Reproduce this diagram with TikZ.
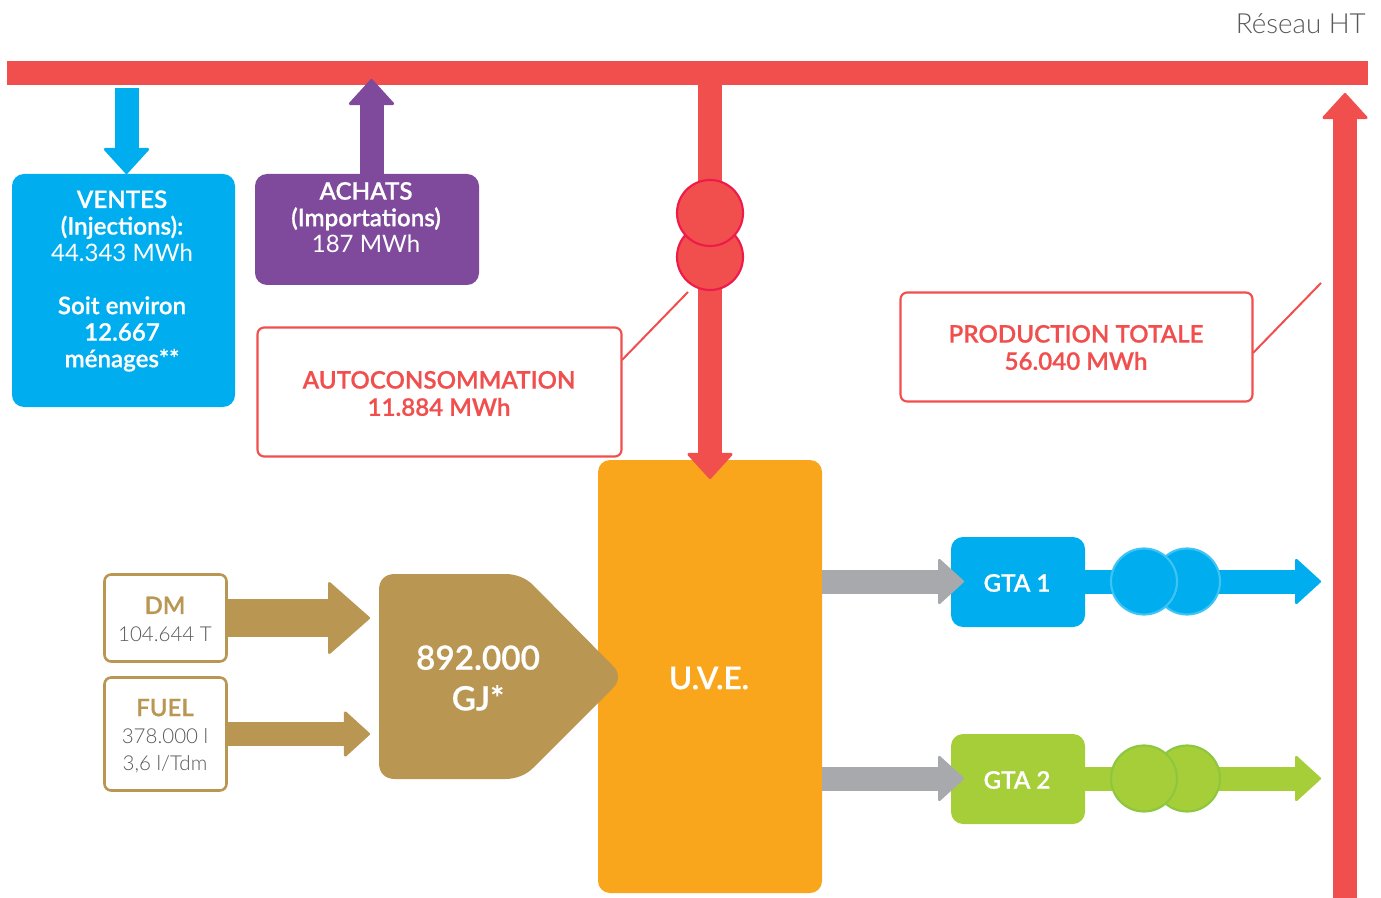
\documentclass[tikz,border=0pt]{standalone}
\usepackage{fontspec}
\usetikzlibrary{arrows.meta}
\setmainfont{Lato}
\newfontfamily\lightf{Lato Light}
\newfontfamily\medf[FakeBold=0.6]{Lato Semibold}
\definecolor{cred}{HTML}{F14E4E}
\definecolor{cring}{HTML}{EE1B4A}
\definecolor{cblue}{HTML}{00AEEF}
\definecolor{cbring}{HTML}{3DC3F4}
\definecolor{cpurple}{HTML}{7F4A9C}
\definecolor{corange}{HTML}{F9A61C}
\definecolor{cgold}{HTML}{B99652}
\definecolor{cgray}{HTML}{A7A9AC}
\definecolor{cgreen}{HTML}{A6CE39}
\definecolor{cgring}{HTML}{8DC63F}
\definecolor{ctext}{HTML}{58595B}
\tikzset{
  px/.style={x=0.75pt,y=-0.75pt},
  boxnode/.style={rounded corners=9pt,inner sep=0,outer sep=0},
  solidbox/.style={boxnode,fill=#1},
  linebox/.style={boxnode,rounded corners=5pt,draw=#1,line width=1.6pt,fill=white},
  ttxt/.style={align=center,inner sep=0,font=\medf\fontsize{18.1}{19.9}\selectfont,text=white},
  rtxt/.style={align=center,inner sep=0,font=\medf\fontsize{18.1}{20.4}\selectfont,text=cred},
  gtxt/.style={align=center,inner sep=0,font=\lightf\fontsize{15.4}{20.4}\selectfont,text=ctext},
  bigarrow/.style={draw=#1,line width=18pt,-{Triangle[round,length=20pt,width=36pt,line width=2pt,fill=#1,color=#1]}},
  fatarrow/.style={draw=#1,line width=28.5pt,-{Triangle[round,length=32pt,width=56pt,line width=2pt,fill=#1,color=#1]}},
  ring/.style={circle,minimum size=49.5pt,inner sep=0,line width=1.6pt,fill=#1},
  leader/.style={draw=cred,line width=1.5pt},
}
\begin{document}
\begin{tikzpicture}[px]
\useasboundingbox (0,0) rectangle (1381,898);
% bus and main nodes
\node[fill=cred,minimum width=1361*0.75pt,minimum height=24*0.75pt,inner sep=0,outer sep=0] (bus) at (687.5,73) {};
\node[anchor=east,inner sep=0,font=\lightf\fontsize{20.8}{22}\selectfont,text=ctext] (ht) at (1366,24) {Réseau HT};
\node[solidbox=cblue,minimum width=223*0.75pt,minimum height=233*0.75pt] (ventes) at (123.5,290.5) {};
\node[solidbox=cpurple,minimum width=224*0.75pt,minimum height=111*0.75pt] (achats) at (367,229.5) {};
\node[solidbox=corange,minimum width=224*0.75pt,minimum height=433*0.75pt] (uve) at (710,676.5) {};
\node[linebox=cred,minimum width=364*0.75pt,minimum height=129*0.75pt] (auto) at (439.5,392) {};
\node[linebox=cred,minimum width=352*0.75pt,minimum height=109*0.75pt] (prod) at (1076.5,347) {};
\node[solidbox=cblue,minimum width=134*0.75pt,minimum height=90*0.75pt] (gta1) at (1018,582) {};
\node[solidbox=cgreen,minimum width=134*0.75pt,minimum height=90*0.75pt] (gta2) at (1018,779) {};
\node[linebox=cgold,line width=1.9pt,minimum width=122*0.75pt,minimum height=87*0.75pt] (dm) at (165.5,618) {};
\node[linebox=cgold,line width=1.9pt,minimum width=122*0.75pt,minimum height=113*0.75pt] (fuel) at (165.5,734) {};
% free ends
\coordinate (vs) at (126.5,88);
\coordinate (ve) at (126.5,174);
\coordinate (as) at (371.5,174);
\coordinate (ae) at (371.5,79);
\coordinate (rs) at (710,61);
\coordinate (re) at (710,479);
\coordinate (ps) at (1345,898);
\coordinate (pe) at (1345,93);
\coordinate (g1s) at (822,581.5);
\coordinate (g1e) at (964,581.5);
\coordinate (g2s) at (822,778.5);
\coordinate (g2e) at (964,778.5);
\coordinate (b1s) at (1085,581.5);
\coordinate (b1e) at (1321,581.5);
\coordinate (b2s) at (1085,778.5);
\coordinate (b2e) at (1321,778.5);
\coordinate (dms) at (227,618);
\coordinate (dme) at (370,618);
\coordinate (fus) at (227,734);
\coordinate (fue) at (370,734);
\coordinate (la1) at (622,360);
\coordinate (la2) at (688,292);
\coordinate (lb1) at (1253,353);
\coordinate (lb2) at (1321,283);
% block arrows
\draw[bigarrow=cblue] (vs) -- (ve);
\draw[bigarrow=cpurple] (as) -- (ae);
\draw[bigarrow=cred] (rs) -- (re);
\draw[bigarrow=cred] (ps) -- (pe);
\draw[bigarrow=cgray] (g1s) -- (g1e);
\draw[bigarrow=cgray] (g2s) -- (g2e);
\draw[bigarrow=cblue] (b1s) -- (b1e);
\draw[bigarrow=cgreen] (b2s) -- (b2e);
\draw[fatarrow=cgold] (dms) -- (dme);
\draw[bigarrow=cgold] (fus) -- (fue);
% fuel pentagon
\fill[cgold,rounded corners=0pt] (379,590)
  .. controls (379,580) and (385,574) .. (395,574)
  -- (505,574)
  .. controls (516,574) and (526,578) .. (533,585)
  -- (612,665)
  .. controls (620,672) and (620,682) .. (612,689)
  -- (533,768)
  .. controls (526,775) and (516,779) .. (505,779)
  -- (395,779)
  .. controls (385,779) and (379,773) .. (379,763) -- cycle;
% leaders
\draw[leader] (la1) -- (la2);
\draw[leader] (lb1) -- (lb2);
% transformers
\node[ring=cred,draw=cring] (t1) at (710,257) {};
\node[ring=cred,draw=cring] (t2) at (710,213) {};
\node[ring=cblue,draw=cbring] (b2) at (1187,581.5) {};
\node[ring=cblue,draw=cbring] (b1) at (1144,581.5) {};
\node[ring=cgreen,draw=cgring] (c2) at (1187,778.5) {};
\node[ring=cgreen,draw=cgring] (c1) at (1144,778.5) {};
% texts
\node[ttxt] (tv) at (122,281) {VENTES\\(Injections):\\{\fontsize{18}{19.9}\selectfont\rmfamily 44.343 MWh}\\[19.9pt]Soit environ\\12.667\\ménages**};
\node[ttxt] (ta) at (366,217.5) {ACHATS\\(Importations)\\{\fontsize{18}{19.9}\selectfont\rmfamily 187 MWh}};
\node[rtxt] (tau) at (439,393.5) {AUTOCONSOMMATION\\11.884 MWh};
\node[rtxt] (tp) at (1076,347.5) {PRODUCTION TOTALE\\56.040 MWh};
\node[ttxt] at (1017,583) (tg1) {GTA 1};
\node[ttxt] at (1017,780) (tg2) {GTA 2};
\node[ttxt,font=\medf\fontsize{23.5}{30}\selectfont] (tu) at (709,678) {U.V.E.};
\node[ttxt,font=\medf\fontsize{25}{30.5}\selectfont] (tgj) at (478,678) {892.000\\GJ*};
\node[gtxt] (tdm) at (165,619) {{\medf\fontsize{18}{20.4}\selectfont\color{cgold}DM}\\104.644 T};
\node[gtxt] (tfu) at (165,736) {{\medf\fontsize{18}{20.4}\selectfont\color{cgold}FUEL}\\378.000 l\\3,6 l/Tdm};
\end{tikzpicture}
\end{document}
